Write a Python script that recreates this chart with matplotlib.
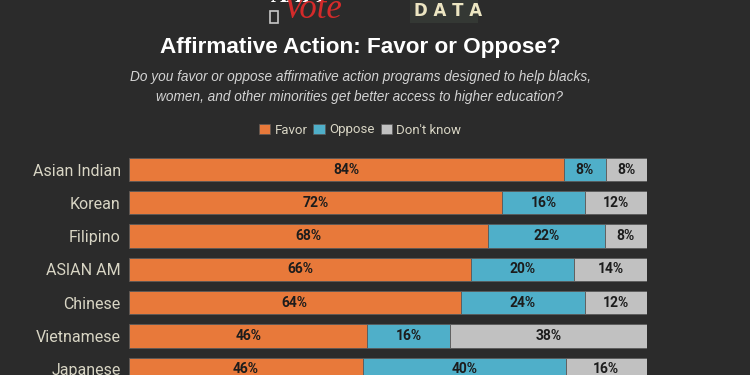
import matplotlib
matplotlib.use("Agg")
import matplotlib.pyplot as plt
from matplotlib.patches import Patch, Rectangle
import numpy as np

categories = ["Asian Indian", "Korean", "Filipino", "ASIAN AM", "Chinese", "Vietnamese", "Japanese"]
favor = [84, 72, 68, 66, 64, 46, 46]
oppose = [8, 16, 22, 20, 24, 16, 40]
dont_know = [8, 12, 8, 14, 12, 38, 16]
series_names = ["Favor", "Oppose", "Don't know"]

BG = "#2b2b2b"
colors = ["#e8793a", "#4fafc9", "#c1c1c1"]
label_col = "#d8d5c4"
CX = 360 / 750

fig = plt.figure(figsize=(7.5, 3.75), dpi=100)
fig.patch.set_facecolor(BG)

ax = fig.add_axes([129/750, 0, 518/750, 225/375])
ax.set_facecolor(BG)

data = np.array([favor, oppose, dont_know], dtype=float)
totals = data.sum(axis=0)
shares = data / totals * 100
y = np.arange(len(categories))
left = np.zeros(len(categories))
for i, (name, col) in enumerate(zip(series_names, colors)):
    bars = ax.barh(y, shares[i], left=left, height=0.7, color=col,
                   edgecolor="#5a5a5a", linewidth=0.6, label=name)
    for j, b in enumerate(bars):
        ax.text(left[j] + shares[i][j] / 2, y[j], f"{int(data[i][j])}%",
                ha="center", va="center", fontsize=10, fontweight="bold",
                family="Roboto", color="#1c1c1c")
    left += shares[i]

ax.set_xlim(0, 100)
ax.set_ylim((375 - 169.5) / 33.3, -(169.5 - 150) / 33.3)
ax.set_yticks(y)
ax.set_yticklabels(categories, family="Roboto", fontsize=11.5, color=label_col)
ax.tick_params(axis="y", length=0, pad=6)
ax.set_xticks([])
for s in ax.spines.values():
    s.set_visible(False)

# Legend
handles = [Patch(facecolor=c, edgecolor="#5a5a5a", linewidth=0.5) for c in colors]
fig.legend(handles, series_names, loc="center", bbox_to_anchor=(CX, 1 - 130/375),
           ncol=3, frameon=False, handlelength=0.85, handleheight=0.85,
           handletextpad=0.35, columnspacing=0.45, borderpad=0,
           prop={"family": "Roboto", "size": 9.5}, labelcolor=label_col)

# Title and subtitle
fig.text(CX, 1 - 47/375, "Affirmative Action: Favor or Oppose?", ha="center", va="center",
         fontsize=16.2, fontweight="bold", family="Liberation Sans", color="white")
fig.text(CX, 1 - 77/375, "Do you favor or oppose affirmative action programs designed to help blacks,",
         ha="center", va="center", fontsize=9.8, style="italic", family="Liberation Sans", color="#d4d4d4")
fig.text(CX, 1 - 97/375, "women, and other minorities get better access to higher education?",
         ha="center", va="center", fontsize=9.8, style="italic", family="Liberation Sans", color="#d4d4d4")

# Logo (cut off at top)
fig.text(298/750, 1 - (-3)/375, "AAPI", ha="center", va="center", fontsize=16,
         family="Liberation Serif", fontweight="bold", color="white")
fig.text(312/750, 1 - 9/375, "Vote", ha="center", va="center", fontsize=25,
         family="Liberation Serif", style="italic", color="#d42a2a")
fig.patches.append(Rectangle((270/750, 1 - 23/375), 8/750, 12/375, transform=fig.transFigure,
                             fill=False, edgecolor="#c8c8c8", linewidth=1.2))
fig.patches.append(Rectangle((410/750, 1 - 23/375), 68/750, 23/375, transform=fig.transFigure,
                             facecolor="#343834", edgecolor="none"))
fig.text(448/750, 1 - 11/375, "D A T A", ha="center", va="center", fontsize=12,
         family="DejaVu Sans", fontweight="bold", color="#ece6c2")

fig.savefig("out.png", dpi=100, facecolor=BG)
